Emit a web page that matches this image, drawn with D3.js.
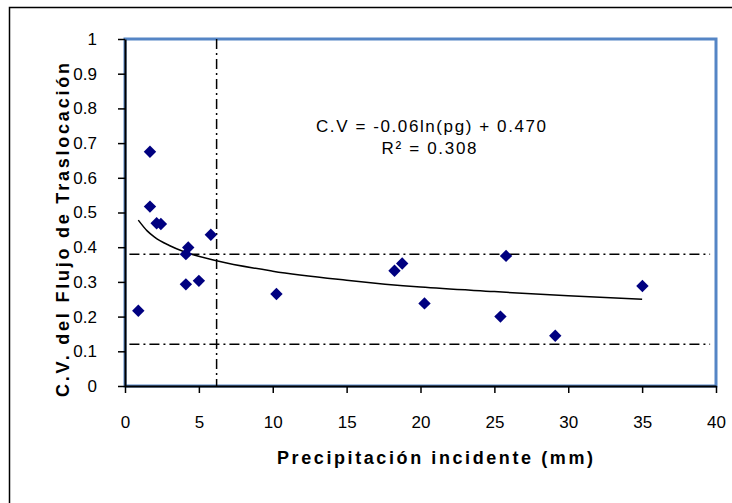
<!DOCTYPE html>
<html><head><meta charset="utf-8">
<script src="https://cdn.jsdelivr.net/npm/d3@7"></script>
<style>body{margin:0;background:#fff}svg{display:block}text{font-family:Arial,"Liberation Sans",sans-serif}</style>
</head><body>
<svg id="c" width="732" height="503"></svg>
<script>
// Data
const precip = [0.9, 1.69, 1.69, 2.14, 2.43, 4.12, 4.28, 4.12, 5.0, 5.81, 10.25, 18.24, 18.76, 20.27, 25.41, 25.79, 29.12, 35.02];
const cv     = [0.217, 0.675, 0.517, 0.469, 0.467, 0.38, 0.399, 0.293, 0.303, 0.436, 0.265, 0.332, 0.353, 0.238, 0.2, 0.375, 0.145, 0.288];
const trendX = [0.9, 1.5, 2, 3, 4, 6.2, 10, 15, 20, 25, 30, 35];
const trendY = [0.478, 0.447, 0.429, 0.405, 0.387, 0.361, 0.331, 0.305, 0.285, 0.272, 0.26, 0.25];
const hRefs = [0.38, 0.12];
const vRefs = [6.2];
const xTicks = [0, 5, 10, 15, 20, 25, 30, 35, 40];
const yTicks = [0, 0.1, 0.2, 0.3, 0.4, 0.5, 0.6, 0.7, 0.8, 0.9, 1];
const eqLine1 = "C.V = -0.06ln(pg) + 0.470";
const eqLine2 = "R\u00B2 = 0.308";
const xTitle = "Precipitación incidente (mm)";
const yTitle = "C.V. del Flujo de Traslocación";

const svg = d3.select("#c");
const L = 125, R = 716, T = 39, B = 386;
const x = d3.scaleLinear().domain([0, 40]).range([L, R]);
const y = d3.scaleLinear().domain([0, 1]).range([B, T]);

// outer frame
svg.append("rect").attr("x", 9.5).attr("y", 7.5).attr("width", 760).attr("height", 540)
  .attr("fill", "none").attr("stroke", "#000").attr("stroke-width", 1.5);

// plot area border (blue)
svg.append("rect").attr("x", L).attr("y", T).attr("width", R - L).attr("height", B - T)
  .attr("fill", "#fff").attr("stroke", "#5585C5").attr("stroke-width", 3);

// reference lines
const dash = "10,4,2,4";
svg.selectAll("line.h").data(hRefs).enter().append("line")
  .attr("x1", x(0.3)).attr("x2", x(39.6)).attr("y1", d => y(d)).attr("y2", d => y(d))
  .attr("stroke", "#000").attr("stroke-width", 1.5).attr("stroke-dasharray", dash);
svg.selectAll("line.v").data(vRefs).enter().append("line")
  .attr("x1", d => x(d)).attr("x2", d => x(d)).attr("y1", y(1)).attr("y2", y(0))
  .attr("stroke", "#000").attr("stroke-width", 1.5).attr("stroke-dasharray", dash);

// trend line
const tr = trendX.map((d, i) => [d, trendY[i]]);
svg.append("path").datum(tr)
  .attr("d", d3.line().x(d => x(d[0])).y(d => y(d[1])).curve(d3.curveMonotoneX))
  .attr("fill", "none").attr("stroke", "#000").attr("stroke-width", 1.5);

// points (diamonds)
const pts = precip.map((d, i) => [d, cv[i]]);
const s = 6.2;
svg.selectAll("path.pt").data(pts).enter().append("path")
  .attr("d", d => `M${x(d[0])},${y(d[1]) - s}L${x(d[0]) + s},${y(d[1])}L${x(d[0])},${y(d[1]) + s}L${x(d[0]) - s},${y(d[1])}Z`)
  .attr("fill", "#000080");

// axes
const yAxis = d3.axisLeft(y).tickValues(yTicks).tickFormat(d => d3.format("~g")(d)).tickSize(7).tickSizeOuter(0).tickPadding(21);
const gy = svg.append("g").attr("transform", `translate(${L},0)`).call(yAxis);
const xAxis = d3.axisBottom(x).tickValues(xTicks).tickFormat(d3.format("d")).tickSize(7).tickSizeOuter(0).tickPadding(23);
const gx = svg.append("g").attr("transform", `translate(0,${B})`).call(xAxis);
[gx, gy].forEach(g => {
  g.select(".domain").attr("stroke", "#000").attr("stroke-width", 2);
  g.selectAll(".tick line").attr("stroke", "#000").attr("stroke-width", 1.5);
  g.selectAll(".tick text").attr("font-size", 17).attr("fill", "#000").style("font-family", "Arial, 'Liberation Sans', sans-serif");
});

// equation
svg.append("text").attr("x", 431).attr("y", 132).attr("text-anchor", "middle")
  .attr("font-size", 17).attr("textLength", 230).attr("lengthAdjust", "spacing").text(eqLine1);
svg.append("text").attr("x", 429).attr("y", 154).attr("text-anchor", "middle")
  .attr("font-size", 17).attr("textLength", 95).attr("lengthAdjust", "spacing").text(eqLine2);

// titles
svg.append("text").attr("x", 435).attr("y", 464).attr("text-anchor", "middle")
  .attr("font-size", 18).attr("font-weight", "bold")
  .attr("textLength", 316).attr("lengthAdjust", "spacing").text(xTitle);
svg.append("text").attr("transform", "translate(68.5,230) rotate(-90)").attr("text-anchor", "middle")
  .attr("font-size", 18).attr("font-weight", "bold")
  .attr("textLength", 334).attr("lengthAdjust", "spacing").text(yTitle);
</script>
</body></html>
